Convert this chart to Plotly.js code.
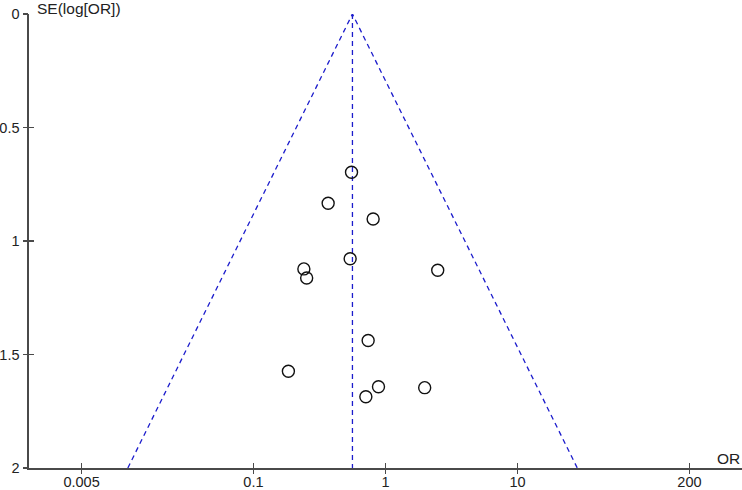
<!DOCTYPE html>
<html>
<head>
<meta charset="utf-8">
<script src="https://cdn.plot.ly/plotly-3.0.1.min.js"></script>
<style>html,body{margin:0;padding:0;background:#fff;}#chart{width:742px;height:490px;}</style>
</head>
<body>
<div id="chart"></div>
<script>
// Study data: odds ratio and standard error of log(OR)
const studyOR = [0.553, 0.368, 0.806, 0.540, 0.241, 0.253, 2.485, 0.184, 0.739, 0.885, 0.710, 1.98];
const studySE = [0.697, 0.834, 0.903, 1.078, 1.123, 1.163, 1.129, 1.574, 1.438, 1.642, 1.686, 1.646];

// Funnel (pseudo 95% limits) and pooled estimate
const funnelOR = [0.0112, 0.562, 28.3];
const funnelSE = [2, 0, 2];
const pooledOR = [0.562, 0.562];
const pooledSE = [0, 2];

// Ticks
const xTickVals = [0.005, 0.1, 1, 10, 200];
const xTickText = ['0.005', '0.1', '1', '10', '200'];
const yTickVals = [0, 0.5, 1, 1.5, 2];
const yTickText = ['0', '0.5', '1', '1.5', '2'];

const blue = '#1c1ccc';
const axisCol = '#4a4a4a';
const fontFam = 'Liberation Sans, Arial, sans-serif';
const fs = 15.5;
const tfs = 14.5;

const traces = [
  {x: funnelOR, y: funnelSE, mode: 'lines', type: 'scatter', hoverinfo: 'skip',
   line: {color: blue, width: 1.3, dash: '5px,4px'}},
  {x: pooledOR, y: pooledSE, mode: 'lines', type: 'scatter', hoverinfo: 'skip',
   line: {color: blue, width: 1.3, dash: '5px,4px'}},
  {x: studyOR, y: studySE, mode: 'markers', type: 'scatter',
   marker: {symbol: 'circle-open', size: 12, color: '#111111', line: {width: 1.4}}},
  {x: [], y: [], xaxis: 'x2', yaxis: 'y2', type: 'scatter', mode: 'markers'}
];

const xr = [Math.log10(0.002), Math.log10(500)];
const layout = {
  width: 742, height: 490,
  margin: {l: 29, r: 0, t: 14, b: 22},
  paper_bgcolor: '#ffffff', plot_bgcolor: '#ffffff',
  showlegend: false,
  font: {family: fontFam, size: fs, color: '#222222'},
  xaxis: {type: 'log', range: xr, tickvals: xTickVals, ticktext: xTickText,
    showgrid: false, zeroline: false, showline: true, linecolor: axisCol, linewidth: 1.6,
    ticks: 'inside', ticklen: 5, tickwidth: 1.4, tickcolor: axisCol, ticklabelstandoff: 0,
    tickfont: {family: fontFam, size: tfs, color: '#222'}},
  yaxis: {range: [2, 0], tickvals: yTickVals, ticktext: yTickText,
    showgrid: false, zeroline: false, showline: true, linecolor: axisCol, linewidth: 1.6,
    ticks: 'inside', ticklen: 5, tickwidth: 1.4, tickcolor: axisCol, ticklabelstandoff: 5,
    tickfont: {family: fontFam, size: tfs, color: '#222'}},
  xaxis2: {type: 'log', range: xr, overlaying: 'x', anchor: 'y', side: 'bottom',
    tickvals: xTickVals, showticklabels: false, showgrid: false, zeroline: false, showline: false,
    ticks: 'outside', ticklen: 5, tickwidth: 1.4, tickcolor: axisCol},
  yaxis2: {range: [2, 0], overlaying: 'y', anchor: 'x', side: 'left',
    tickvals: yTickVals, showticklabels: false, showgrid: false, zeroline: false, showline: false,
    ticks: 'outside', ticklen: 5, tickwidth: 1.4, tickcolor: axisCol},
  annotations: [
    {text: 'SE(log[OR])', xref: 'paper', yref: 'paper', x: 0, y: 1, xanchor: 'left', yanchor: 'middle',
     xshift: 6, yshift: 6, showarrow: false, font: {family: fontFam, size: fs, color: '#222'}},
    {text: 'OR', xref: 'paper', yref: 'paper', x: 1, y: 0, xanchor: 'right', yanchor: 'bottom',
     xshift: 0, yshift: -1, showarrow: false, font: {family: fontFam, size: fs, color: '#222'}}
  ]
};

Plotly.newPlot('chart', traces, layout, {displayModeBar: false, staticPlot: true});
</script>
</body>
</html>
